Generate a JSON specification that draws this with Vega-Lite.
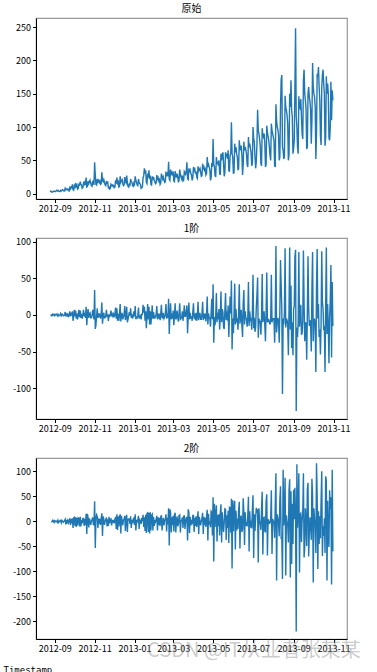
{
"$schema":"https://vega.github.io/schema/vega-lite/v6.json",
"padding":{"top":3,"left":2,"right":0,"bottom":0},
"title":{"text":"CSDN @IT从业者张某某","orient":"bottom","anchor":"end","fontSize":20,"font":"Noto Sans CJK SC","fontWeight":"normal","color":"rgba(140,140,140,0.45)","offset":-34,"dx":10},
"spacing":8,
"datasets":{"d":[
{"t":"2012-08-25","o":3},
{"t":"2012-08-26","o":4,"a":1},
{"t":"2012-08-27","o":3,"a":-1,"b":-2},
{"t":"2012-08-28","o":2,"a":-1,"b":0},
{"t":"2012-08-29","o":3,"a":1,"b":2},
{"t":"2012-08-30","o":3,"a":0,"b":-1},
{"t":"2012-08-31","o":4,"a":1,"b":1},
{"t":"2012-09-01","o":3,"a":-1,"b":-2},
{"t":"2012-09-02","o":3,"a":0,"b":1},
{"t":"2012-09-03","o":4,"a":1,"b":1},
{"t":"2012-09-04","o":5,"a":1,"b":0},
{"t":"2012-09-05","o":4,"a":-1,"b":-2},
{"t":"2012-09-06","o":5,"a":1,"b":2},
{"t":"2012-09-07","o":4,"a":-1,"b":-2},
{"t":"2012-09-08","o":3,"a":-1,"b":0},
{"t":"2012-09-09","o":3,"a":0,"b":1},
{"t":"2012-09-10","o":5,"a":2,"b":2},
{"t":"2012-09-11","o":4,"a":-1,"b":-3},
{"t":"2012-09-12","o":5,"a":1,"b":2},
{"t":"2012-09-13","o":6,"a":1,"b":0},
{"t":"2012-09-14","o":5,"a":-1,"b":-2},
{"t":"2012-09-15","o":4,"a":-1,"b":0},
{"t":"2012-09-16","o":4,"a":0,"b":1},
{"t":"2012-09-17","o":8,"a":4,"b":4},
{"t":"2012-09-18","o":6,"a":-2,"b":-6},
{"t":"2012-09-19","o":7,"a":1,"b":3},
{"t":"2012-09-20","o":6,"a":-1,"b":-2},
{"t":"2012-09-21","o":7,"a":1,"b":2},
{"t":"2012-09-22","o":5,"a":-2,"b":-3},
{"t":"2012-09-23","o":4,"a":-1,"b":1},
{"t":"2012-09-24","o":9,"a":5,"b":6},
{"t":"2012-09-25","o":7,"a":-2,"b":-7},
{"t":"2012-09-26","o":10,"a":3,"b":5},
{"t":"2012-09-27","o":9,"a":-1,"b":-4},
{"t":"2012-09-28","o":14,"a":5,"b":6},
{"t":"2012-09-29","o":6,"a":-8,"b":-13},
{"t":"2012-09-30","o":5,"a":-1,"b":7},
{"t":"2012-10-01","o":12,"a":7,"b":8},
{"t":"2012-10-02","o":10,"a":-2,"b":-9},
{"t":"2012-10-03","o":16,"a":6,"b":8},
{"t":"2012-10-04","o":11,"a":-5,"b":-11},
{"t":"2012-10-05","o":13,"a":2,"b":7},
{"t":"2012-10-06","o":7,"a":-6,"b":-8},
{"t":"2012-10-07","o":8,"a":1,"b":7},
{"t":"2012-10-08","o":15,"a":7,"b":6},
{"t":"2012-10-09","o":12,"a":-3,"b":-10},
{"t":"2012-10-10","o":18,"a":6,"b":9},
{"t":"2012-10-11","o":14,"a":-4,"b":-10},
{"t":"2012-10-12","o":13,"a":-1,"b":3},
{"t":"2012-10-13","o":8,"a":-5,"b":-4},
{"t":"2012-10-14","o":9,"a":1,"b":6},
{"t":"2012-10-15","o":16,"a":7,"b":6},
{"t":"2012-10-16","o":14,"a":-2,"b":-9},
{"t":"2012-10-17","o":17,"a":3,"b":5},
{"t":"2012-10-18","o":13,"a":-4,"b":-7},
{"t":"2012-10-19","o":24,"a":11,"b":15},
{"t":"2012-10-20","o":10,"a":-14,"b":-25},
{"t":"2012-10-21","o":11,"a":1,"b":15},
{"t":"2012-10-22","o":19,"a":8,"b":7},
{"t":"2012-10-23","o":15,"a":-4,"b":-12},
{"t":"2012-10-24","o":17,"a":2,"b":6},
{"t":"2012-10-25","o":20,"a":3,"b":1},
{"t":"2012-10-26","o":16,"a":-4,"b":-7},
{"t":"2012-10-27","o":12,"a":-4,"b":0},
{"t":"2012-10-28","o":11,"a":-1,"b":3},
{"t":"2012-10-29","o":18,"a":7,"b":8},
{"t":"2012-10-30","o":19,"a":1,"b":-6},
{"t":"2012-10-31","o":13,"a":-6,"b":-7},
{"t":"2012-11-01","o":47,"a":34,"b":40},
{"t":"2012-11-02","o":28,"a":-19,"b":-53},
{"t":"2012-11-03","o":14,"a":-14,"b":5},
{"t":"2012-11-04","o":13,"a":-1,"b":13},
{"t":"2012-11-05","o":22,"a":9,"b":10},
{"t":"2012-11-06","o":18,"a":-4,"b":-13},
{"t":"2012-11-07","o":20,"a":2,"b":6},
{"t":"2012-11-08","o":17,"a":-3,"b":-5},
{"t":"2012-11-09","o":19,"a":2,"b":5},
{"t":"2012-11-10","o":14,"a":-5,"b":-7},
{"t":"2012-11-11","o":15,"a":1,"b":6},
{"t":"2012-11-12","o":32,"a":17,"b":16},
{"t":"2012-11-13","o":20,"a":-12,"b":-29},
{"t":"2012-11-14","o":18,"a":-2,"b":10},
{"t":"2012-11-15","o":21,"a":3,"b":5},
{"t":"2012-11-16","o":17,"a":-4,"b":-7},
{"t":"2012-11-17","o":13,"a":-4,"b":0},
{"t":"2012-11-18","o":12,"a":-1,"b":3},
{"t":"2012-11-19","o":19,"a":7,"b":8},
{"t":"2012-11-20","o":16,"a":-3,"b":-10},
{"t":"2012-11-21","o":17,"a":1,"b":4},
{"t":"2012-11-22","o":9,"a":-8,"b":-9},
{"t":"2012-11-23","o":10,"a":1,"b":9},
{"t":"2012-11-24","o":7,"a":-3,"b":-4},
{"t":"2012-11-25","o":8,"a":1,"b":4},
{"t":"2012-11-26","o":14,"a":6,"b":5},
{"t":"2012-11-27","o":12,"a":-2,"b":-8},
{"t":"2012-11-28","o":13,"a":1,"b":3},
{"t":"2012-11-29","o":11,"a":-2,"b":-3},
{"t":"2012-11-30","o":12,"a":1,"b":3},
{"t":"2012-12-01","o":9,"a":-3,"b":-4},
{"t":"2012-12-02","o":10,"a":1,"b":4},
{"t":"2012-12-03","o":20,"a":10,"b":9},
{"t":"2012-12-04","o":15,"a":-5,"b":-15},
{"t":"2012-12-05","o":24,"a":9,"b":14},
{"t":"2012-12-06","o":16,"a":-8,"b":-17},
{"t":"2012-12-07","o":18,"a":2,"b":10},
{"t":"2012-12-08","o":10,"a":-8,"b":-10},
{"t":"2012-12-09","o":11,"a":1,"b":9},
{"t":"2012-12-10","o":26,"a":15,"b":14},
{"t":"2012-12-11","o":17,"a":-9,"b":-24},
{"t":"2012-12-12","o":19,"a":2,"b":11},
{"t":"2012-12-13","o":21,"a":2,"b":0},
{"t":"2012-12-14","o":15,"a":-6,"b":-8},
{"t":"2012-12-15","o":12,"a":-3,"b":3},
{"t":"2012-12-16","o":13,"a":1,"b":4},
{"t":"2012-12-17","o":25,"a":12,"b":11},
{"t":"2012-12-18","o":18,"a":-7,"b":-19},
{"t":"2012-12-19","o":16,"a":-2,"b":5},
{"t":"2012-12-20","o":27,"a":11,"b":13},
{"t":"2012-12-21","o":17,"a":-10,"b":-21},
{"t":"2012-12-22","o":11,"a":-6,"b":4},
{"t":"2012-12-23","o":10,"a":-1,"b":5},
{"t":"2012-12-24","o":14,"a":4,"b":5},
{"t":"2012-12-25","o":13,"a":-1,"b":-5},
{"t":"2012-12-26","o":22,"a":9,"b":10},
{"t":"2012-12-27","o":18,"a":-4,"b":-13},
{"t":"2012-12-28","o":17,"a":-1,"b":3},
{"t":"2012-12-29","o":12,"a":-5,"b":-4},
{"t":"2012-12-30","o":11,"a":-1,"b":4},
{"t":"2012-12-31","o":16,"a":5,"b":6},
{"t":"2013-01-01","o":14,"a":-2,"b":-7},
{"t":"2013-01-02","o":26,"a":12,"b":14},
{"t":"2013-01-03","o":20,"a":-6,"b":-18},
{"t":"2013-01-04","o":17,"a":-3,"b":3},
{"t":"2013-01-05","o":13,"a":-4,"b":-1},
{"t":"2013-01-06","o":12,"a":-1,"b":3},
{"t":"2013-01-07","o":22,"a":10,"b":11},
{"t":"2013-01-08","o":17,"a":-5,"b":-15},
{"t":"2013-01-09","o":15,"a":-2,"b":3},
{"t":"2013-01-10","o":14,"a":-1,"b":1},
{"t":"2013-01-11","o":8,"a":-6,"b":-5},
{"t":"2013-01-12","o":9,"a":1,"b":7},
{"t":"2013-01-13","o":10,"a":1,"b":0},
{"t":"2013-01-14","o":24,"a":14,"b":13},
{"t":"2013-01-15","o":27,"a":3,"b":-11},
{"t":"2013-01-16","o":38,"a":11,"b":8},
{"t":"2013-01-17","o":30,"a":-8,"b":-19},
{"t":"2013-01-18","o":35,"a":5,"b":13},
{"t":"2013-01-19","o":17,"a":-18,"b":-23},
{"t":"2013-01-20","o":15,"a":-2,"b":16},
{"t":"2013-01-21","o":30,"a":15,"b":17},
{"t":"2013-01-22","o":24,"a":-6,"b":-21},
{"t":"2013-01-23","o":35,"a":11,"b":17},
{"t":"2013-01-24","o":22,"a":-13,"b":-24},
{"t":"2013-01-25","o":27,"a":5,"b":18},
{"t":"2013-01-26","o":14,"a":-13,"b":-18},
{"t":"2013-01-27","o":13,"a":-1,"b":12},
{"t":"2013-01-28","o":26,"a":13,"b":14},
{"t":"2013-01-29","o":21,"a":-5,"b":-18},
{"t":"2013-01-30","o":25,"a":4,"b":9},
{"t":"2013-01-31","o":20,"a":-5,"b":-9},
{"t":"2013-02-01","o":18,"a":-2,"b":3},
{"t":"2013-02-02","o":15,"a":-3,"b":-1},
{"t":"2013-02-03","o":16,"a":1,"b":4},
{"t":"2013-02-04","o":28,"a":12,"b":11},
{"t":"2013-02-05","o":22,"a":-6,"b":-18},
{"t":"2013-02-06","o":24,"a":2,"b":8},
{"t":"2013-02-07","o":19,"a":-5,"b":-7},
{"t":"2013-02-08","o":21,"a":2,"b":7},
{"t":"2013-02-09","o":14,"a":-7,"b":-9},
{"t":"2013-02-10","o":16,"a":2,"b":9},
{"t":"2013-02-11","o":30,"a":14,"b":12},
{"t":"2013-02-12","o":26,"a":-4,"b":-18},
{"t":"2013-02-13","o":22,"a":-4,"b":0},
{"t":"2013-02-14","o":25,"a":3,"b":7},
{"t":"2013-02-15","o":20,"a":-5,"b":-8},
{"t":"2013-02-16","o":17,"a":-3,"b":2},
{"t":"2013-02-17","o":18,"a":1,"b":4},
{"t":"2013-02-18","o":33,"a":15,"b":14},
{"t":"2013-02-19","o":28,"a":-5,"b":-20},
{"t":"2013-02-20","o":30,"a":2,"b":7},
{"t":"2013-02-21","o":26,"a":-4,"b":-6},
{"t":"2013-02-22","o":48,"a":22,"b":26},
{"t":"2013-02-23","o":22,"a":-26,"b":-48},
{"t":"2013-02-24","o":20,"a":-2,"b":24},
{"t":"2013-02-25","o":36,"a":16,"b":18},
{"t":"2013-02-26","o":30,"a":-6,"b":-22},
{"t":"2013-02-27","o":32,"a":2,"b":8},
{"t":"2013-02-28","o":27,"a":-5,"b":-7},
{"t":"2013-03-01","o":33,"a":6,"b":11},
{"t":"2013-03-02","o":19,"a":-14,"b":-20},
{"t":"2013-03-03","o":18,"a":-1,"b":13},
{"t":"2013-03-04","o":34,"a":16,"b":17},
{"t":"2013-03-05","o":28,"a":-6,"b":-22},
{"t":"2013-03-06","o":24,"a":-4,"b":2},
{"t":"2013-03-07","o":30,"a":6,"b":10},
{"t":"2013-03-08","o":26,"a":-4,"b":-10},
{"t":"2013-03-09","o":17,"a":-9,"b":-5},
{"t":"2013-03-10","o":20,"a":3,"b":12},
{"t":"2013-03-11","o":36,"a":16,"b":13},
{"t":"2013-03-12","o":30,"a":-6,"b":-22},
{"t":"2013-03-13","o":25,"a":-5,"b":1},
{"t":"2013-03-14","o":22,"a":-3,"b":2},
{"t":"2013-03-15","o":27,"a":5,"b":8},
{"t":"2013-03-16","o":19,"a":-8,"b":-13},
{"t":"2013-03-17","o":20,"a":1,"b":9},
{"t":"2013-03-18","o":33,"a":13,"b":12},
{"t":"2013-03-19","o":31,"a":-2,"b":-15},
{"t":"2013-03-20","o":29,"a":-2,"b":0},
{"t":"2013-03-21","o":34,"a":5,"b":7},
{"t":"2013-03-22","o":47,"a":13,"b":8},
{"t":"2013-03-23","o":22,"a":-25,"b":-38},
{"t":"2013-03-24","o":21,"a":-1,"b":24},
{"t":"2013-03-25","o":38,"a":17,"b":18},
{"t":"2013-03-26","o":32,"a":-6,"b":-23},
{"t":"2013-03-27","o":35,"a":3,"b":9},
{"t":"2013-03-28","o":30,"a":-5,"b":-8},
{"t":"2013-03-29","o":28,"a":-2,"b":3},
{"t":"2013-03-30","o":20,"a":-8,"b":-6},
{"t":"2013-03-31","o":24,"a":4,"b":12},
{"t":"2013-04-01","o":40,"a":16,"b":12},
{"t":"2013-04-02","o":35,"a":-5,"b":-21},
{"t":"2013-04-03","o":37,"a":2,"b":7},
{"t":"2013-04-04","o":30,"a":-7,"b":-9},
{"t":"2013-04-05","o":33,"a":3,"b":10},
{"t":"2013-04-06","o":25,"a":-8,"b":-11},
{"t":"2013-04-07","o":23,"a":-2,"b":6},
{"t":"2013-04-08","o":41,"a":18,"b":20},
{"t":"2013-04-09","o":34,"a":-7,"b":-25},
{"t":"2013-04-10","o":36,"a":2,"b":9},
{"t":"2013-04-11","o":38,"a":2,"b":0},
{"t":"2013-04-12","o":32,"a":-6,"b":-8},
{"t":"2013-04-13","o":26,"a":-6,"b":0},
{"t":"2013-04-14","o":27,"a":1,"b":7},
{"t":"2013-04-15","o":45,"a":18,"b":17},
{"t":"2013-04-16","o":38,"a":-7,"b":-25},
{"t":"2013-04-17","o":40,"a":2,"b":9},
{"t":"2013-04-18","o":35,"a":-5,"b":-7},
{"t":"2013-04-19","o":37,"a":2,"b":7},
{"t":"2013-04-20","o":28,"a":-9,"b":-11},
{"t":"2013-04-21","o":30,"a":2,"b":11},
{"t":"2013-04-22","o":55,"a":25,"b":23},
{"t":"2013-04-23","o":42,"a":-13,"b":-38},
{"t":"2013-04-24","o":44,"a":2,"b":15},
{"t":"2013-04-25","o":40,"a":-4,"b":-6},
{"t":"2013-04-26","o":36,"a":-4,"b":0},
{"t":"2013-04-27","o":20,"a":-16,"b":-12},
{"t":"2013-04-28","o":24,"a":4,"b":20},
{"t":"2013-04-29","o":46,"a":22,"b":18},
{"t":"2013-04-30","o":40,"a":-6,"b":-28},
{"t":"2013-05-01","o":82,"a":42,"b":48},
{"t":"2013-05-02","o":44,"a":-38,"b":-80},
{"t":"2013-05-03","o":41,"a":-3,"b":35},
{"t":"2013-05-04","o":27,"a":-14,"b":-11},
{"t":"2013-05-05","o":25,"a":-2,"b":12},
{"t":"2013-05-06","o":55,"a":30,"b":32},
{"t":"2013-05-07","o":45,"a":-10,"b":-40},
{"t":"2013-05-08","o":48,"a":3,"b":13},
{"t":"2013-05-09","o":42,"a":-6,"b":-9},
{"t":"2013-05-10","o":50,"a":8,"b":14},
{"t":"2013-05-11","o":30,"a":-20,"b":-28},
{"t":"2013-05-12","o":28,"a":-2,"b":18},
{"t":"2013-05-13","o":60,"a":32,"b":34},
{"t":"2013-05-14","o":50,"a":-10,"b":-42},
{"t":"2013-05-15","o":58,"a":8,"b":18},
{"t":"2013-05-16","o":62,"a":4,"b":-4},
{"t":"2013-05-17","o":45,"a":-17,"b":-21},
{"t":"2013-05-18","o":26,"a":-19,"b":-2},
{"t":"2013-05-19","o":32,"a":6,"b":25},
{"t":"2013-05-20","o":62,"a":30,"b":24},
{"t":"2013-05-21","o":55,"a":-7,"b":-37},
{"t":"2013-05-22","o":60,"a":5,"b":12},
{"t":"2013-05-23","o":52,"a":-8,"b":-13},
{"t":"2013-05-24","o":65,"a":13,"b":21},
{"t":"2013-05-25","o":35,"a":-30,"b":-43},
{"t":"2013-05-26","o":33,"a":-2,"b":28},
{"t":"2013-05-27","o":58,"a":25,"b":27},
{"t":"2013-05-28","o":60,"a":2,"b":-23},
{"t":"2013-05-29","o":107,"a":47,"b":45},
{"t":"2013-05-30","o":60,"a":-47,"b":-94},
{"t":"2013-05-31","o":55,"a":-5,"b":42},
{"t":"2013-06-01","o":30,"a":-25,"b":-20},
{"t":"2013-06-02","o":32,"a":2,"b":27},
{"t":"2013-06-03","o":75,"a":43,"b":41},
{"t":"2013-06-04","o":62,"a":-13,"b":-56},
{"t":"2013-06-05","o":70,"a":8,"b":21},
{"t":"2013-06-06","o":60,"a":-10,"b":-18},
{"t":"2013-06-07","o":55,"a":-5,"b":5},
{"t":"2013-06-08","o":35,"a":-20,"b":-15},
{"t":"2013-06-09","o":38,"a":3,"b":23},
{"t":"2013-06-10","o":80,"a":42,"b":39},
{"t":"2013-06-11","o":68,"a":-12,"b":-54},
{"t":"2013-06-12","o":65,"a":-3,"b":9},
{"t":"2013-06-13","o":72,"a":7,"b":10},
{"t":"2013-06-14","o":58,"a":-14,"b":-21},
{"t":"2013-06-15","o":28,"a":-30,"b":-16},
{"t":"2013-06-16","o":44,"a":16,"b":46},
{"t":"2013-06-17","o":78,"a":34,"b":18},
{"t":"2013-06-18","o":65,"a":-13,"b":-47},
{"t":"2013-06-19","o":70,"a":5,"b":18},
{"t":"2013-06-20","o":66,"a":-4,"b":-9},
{"t":"2013-06-21","o":60,"a":-6,"b":-2},
{"t":"2013-06-22","o":44,"a":-16,"b":-10},
{"t":"2013-06-23","o":40,"a":-4,"b":12},
{"t":"2013-06-24","o":85,"a":45,"b":49},
{"t":"2013-06-25","o":70,"a":-15,"b":-60},
{"t":"2013-06-26","o":75,"a":5,"b":20},
{"t":"2013-06-27","o":68,"a":-7,"b":-12},
{"t":"2013-06-28","o":62,"a":-6,"b":1},
{"t":"2013-06-29","o":42,"a":-20,"b":-14},
{"t":"2013-06-30","o":45,"a":3,"b":23},
{"t":"2013-07-01","o":100,"a":55,"b":52},
{"t":"2013-07-02","o":82,"a":-18,"b":-73},
{"t":"2013-07-03","o":78,"a":-4,"b":14},
{"t":"2013-07-04","o":55,"a":-23,"b":-19},
{"t":"2013-07-05","o":38,"a":-17,"b":6},
{"t":"2013-07-06","o":48,"a":10,"b":27},
{"t":"2013-07-07","o":75,"a":27,"b":17},
{"t":"2013-07-08","o":126,"a":51,"b":24},
{"t":"2013-07-09","o":95,"a":-31,"b":-82},
{"t":"2013-07-10","o":90,"a":-5,"b":26},
{"t":"2013-07-11","o":82,"a":-8,"b":-3},
{"t":"2013-07-12","o":72,"a":-10,"b":-2},
{"t":"2013-07-13","o":45,"a":-27,"b":-17},
{"t":"2013-07-14","o":42,"a":-3,"b":24},
{"t":"2013-07-15","o":98,"a":56,"b":59},
{"t":"2013-07-16","o":88,"a":-10,"b":-66},
{"t":"2013-07-17","o":85,"a":-3,"b":7},
{"t":"2013-07-18","o":90,"a":5,"b":8},
{"t":"2013-07-19","o":76,"a":-14,"b":-19},
{"t":"2013-07-20","o":40,"a":-36,"b":-22},
{"t":"2013-07-21","o":44,"a":4,"b":40},
{"t":"2013-07-22","o":102,"a":58,"b":54},
{"t":"2013-07-23","o":92,"a":-10,"b":-68},
{"t":"2013-07-24","o":86,"a":-6,"b":4},
{"t":"2013-07-25","o":80,"a":-6,"b":0},
{"t":"2013-07-26","o":70,"a":-10,"b":-4},
{"t":"2013-07-27","o":57,"a":-13,"b":-3},
{"t":"2013-07-28","o":50,"a":-7,"b":6},
{"t":"2013-07-29","o":105,"a":55,"b":62},
{"t":"2013-07-30","o":95,"a":-10,"b":-65},
{"t":"2013-07-31","o":90,"a":-5,"b":5},
{"t":"2013-08-01","o":85,"a":-5,"b":0},
{"t":"2013-08-02","o":80,"a":-5,"b":0},
{"t":"2013-08-03","o":42,"a":-38,"b":-33},
{"t":"2013-08-04","o":40,"a":-2,"b":36},
{"t":"2013-08-05","o":134,"a":94,"b":96},
{"t":"2013-08-06","o":110,"a":-24,"b":-118},
{"t":"2013-08-07","o":100,"a":-10,"b":14},
{"t":"2013-08-08","o":96,"a":-4,"b":6},
{"t":"2013-08-09","o":88,"a":-8,"b":-4},
{"t":"2013-08-10","o":50,"a":-38,"b":-30},
{"t":"2013-08-11","o":55,"a":5,"b":43},
{"t":"2013-08-12","o":130,"a":75,"b":70},
{"t":"2013-08-13","o":171,"a":41,"b":-34},
{"t":"2013-08-14","o":178,"a":7,"b":-34},
{"t":"2013-08-15","o":70,"a":-108,"b":-115},
{"t":"2013-08-16","o":65,"a":-5,"b":103},
{"t":"2013-08-17","o":52,"a":-13,"b":-8},
{"t":"2013-08-18","o":56,"a":4,"b":17},
{"t":"2013-08-19","o":147,"a":91,"b":87},
{"t":"2013-08-20","o":130,"a":-17,"b":-108},
{"t":"2013-08-21","o":125,"a":-5,"b":12},
{"t":"2013-08-22","o":118,"a":-7,"b":-2},
{"t":"2013-08-23","o":105,"a":-13,"b":-6},
{"t":"2013-08-24","o":50,"a":-55,"b":-42},
{"t":"2013-08-25","o":58,"a":8,"b":63},
{"t":"2013-08-26","o":150,"a":92,"b":84},
{"t":"2013-08-27","o":130,"a":-20,"b":-112},
{"t":"2013-08-28","o":170,"a":40,"b":60},
{"t":"2013-08-29","o":125,"a":-45,"b":-85},
{"t":"2013-08-30","o":115,"a":-10,"b":35},
{"t":"2013-08-31","o":60,"a":-55,"b":-45},
{"t":"2013-09-01","o":68,"a":8,"b":63},
{"t":"2013-09-02","o":80,"a":12,"b":4},
{"t":"2013-09-03","o":159,"a":79,"b":67},
{"t":"2013-09-04","o":248,"a":89,"b":10},
{"t":"2013-09-05","o":117,"a":-131,"b":-220},
{"t":"2013-09-06","o":100,"a":-17,"b":114},
{"t":"2013-09-07","o":70,"a":-30,"b":-13},
{"t":"2013-09-08","o":60,"a":-10,"b":20},
{"t":"2013-09-09","o":146,"a":86,"b":96},
{"t":"2013-09-10","o":130,"a":-16,"b":-102},
{"t":"2013-09-11","o":128,"a":-2,"b":14},
{"t":"2013-09-12","o":142,"a":14,"b":16},
{"t":"2013-09-13","o":115,"a":-27,"b":-41},
{"t":"2013-09-14","o":90,"a":-25,"b":2},
{"t":"2013-09-15","o":82,"a":-8,"b":17},
{"t":"2013-09-16","o":170,"a":88,"b":96},
{"t":"2013-09-17","o":186,"a":16,"b":-72},
{"t":"2013-09-18","o":150,"a":-36,"b":-52},
{"t":"2013-09-19","o":140,"a":-10,"b":26},
{"t":"2013-09-20","o":128,"a":-12,"b":-2},
{"t":"2013-09-21","o":67,"a":-61,"b":-49},
{"t":"2013-09-22","o":70,"a":3,"b":64},
{"t":"2013-09-23","o":150,"a":80,"b":77},
{"t":"2013-09-24","o":160,"a":10,"b":-70},
{"t":"2013-09-25","o":145,"a":-15,"b":-25},
{"t":"2013-09-26","o":138,"a":-7,"b":8},
{"t":"2013-09-27","o":125,"a":-13,"b":-6},
{"t":"2013-09-28","o":75,"a":-50,"b":-37},
{"t":"2013-09-29","o":110,"a":35,"b":85},
{"t":"2013-09-30","o":196,"a":86,"b":51},
{"t":"2013-10-01","o":160,"a":-36,"b":-122},
{"t":"2013-10-02","o":150,"a":-10,"b":26},
{"t":"2013-10-03","o":145,"a":-5,"b":5},
{"t":"2013-10-04","o":130,"a":-15,"b":-10},
{"t":"2013-10-05","o":52,"a":-78,"b":-63},
{"t":"2013-10-06","o":90,"a":38,"b":116},
{"t":"2013-10-07","o":180,"a":90,"b":52},
{"t":"2013-10-08","o":175,"a":-5,"b":-95},
{"t":"2013-10-09","o":190,"a":15,"b":20},
{"t":"2013-10-10","o":160,"a":-30,"b":-45},
{"t":"2013-10-11","o":140,"a":-20,"b":10},
{"t":"2013-10-12","o":86,"a":-54,"b":-34},
{"t":"2013-10-13","o":73,"a":-13,"b":41},
{"t":"2013-10-14","o":160,"a":87,"b":100},
{"t":"2013-10-15","o":178,"a":18,"b":-69},
{"t":"2013-10-16","o":186,"a":8,"b":-10},
{"t":"2013-10-17","o":165,"a":-21,"b":-29},
{"t":"2013-10-18","o":150,"a":-15,"b":6},
{"t":"2013-10-19","o":72,"a":-78,"b":-63},
{"t":"2013-10-20","o":84,"a":12,"b":90},
{"t":"2013-10-21","o":176,"a":92,"b":80},
{"t":"2013-10-22","o":150,"a":-26,"b":-118},
{"t":"2013-10-23","o":165,"a":15,"b":41},
{"t":"2013-10-24","o":150,"a":-15,"b":-30},
{"t":"2013-10-25","o":84,"a":-66,"b":-51},
{"t":"2013-10-26","o":80,"a":-4,"b":62},
{"t":"2013-10-27","o":100,"a":20,"b":24},
{"t":"2013-10-28","o":168,"a":68,"b":48},
{"t":"2013-10-29","o":110,"a":-58,"b":-126},
{"t":"2013-10-30","o":155,"a":45,"b":103},
{"t":"2013-10-31","o":140,"a":-15,"b":-60}
]},
"vconcat":[
{"data":{"name":"d"},"width":311,"height":181,"title":{"text":"原始"},
"mark":{"type":"line","color":"#1f77b4","strokeWidth":1.4},
"encoding":{
"x":{"field":"t","type":"temporal","scale":{"type":"utc","domain":[{"year":2012,"month":8,"date":3,"hours":10,"utc":true},{"year":2013,"month":11,"date":21,"hours":14,"utc":true}]},"axis":{"title":null,"format":"%Y-%m","values":[{"year":2012,"month":9,"date":1,"utc":true},{"year":2012,"month":11,"date":1,"utc":true},{"year":2013,"month":1,"date":1,"utc":true},{"year":2013,"month":3,"date":1,"utc":true},{"year":2013,"month":5,"date":1,"utc":true},{"year":2013,"month":7,"date":1,"utc":true},{"year":2013,"month":9,"date":1,"utc":true},{"year":2013,"month":11,"date":1,"utc":true}]}},
"y":{"field":"o","type":"quantitative","scale":{"domain":[-8,263.5],"nice":false,"zero":false},"axis":{"title":null,"values":[0,50,100,150,200,250]}}}},
{"data":{"name":"d"},"width":311,"height":181,"title":{"text":"1阶"},
"mark":{"type":"line","color":"#1f77b4","strokeWidth":1.4},
"encoding":{
"x":{"field":"t","type":"temporal","scale":{"type":"utc","domain":[{"year":2012,"month":8,"date":3,"hours":10,"utc":true},{"year":2013,"month":11,"date":21,"hours":14,"utc":true}]},"axis":{"title":null,"format":"%Y-%m","values":[{"year":2012,"month":9,"date":1,"utc":true},{"year":2012,"month":11,"date":1,"utc":true},{"year":2013,"month":1,"date":1,"utc":true},{"year":2013,"month":3,"date":1,"utc":true},{"year":2013,"month":5,"date":1,"utc":true},{"year":2013,"month":7,"date":1,"utc":true},{"year":2013,"month":9,"date":1,"utc":true},{"year":2013,"month":11,"date":1,"utc":true}]}},
"y":{"field":"a","type":"quantitative","scale":{"domain":[-142,105],"nice":false,"zero":false},"axis":{"title":null,"values":[-100,-50,0,50,100]}}}},
{"data":{"name":"d"},"width":311,"height":181,"title":{"text":"2阶"},
"mark":{"type":"line","color":"#1f77b4","strokeWidth":1.4},
"encoding":{
"x":{"field":"t","type":"temporal","scale":{"type":"utc","domain":[{"year":2012,"month":8,"date":3,"hours":10,"utc":true},{"year":2013,"month":11,"date":21,"hours":14,"utc":true}]},"axis":{"title":"Timestamp","titleFont":"DejaVu Sans Mono","titleFontSize":9,"titleFontWeight":"normal","titleColor":"#000","titleAnchor":"start","titleAlign":"left","titleBaseline":"top","titleX":-33,"titleY":26,"format":"%Y-%m","values":[{"year":2012,"month":9,"date":1,"utc":true},{"year":2012,"month":11,"date":1,"utc":true},{"year":2013,"month":1,"date":1,"utc":true},{"year":2013,"month":3,"date":1,"utc":true},{"year":2013,"month":5,"date":1,"utc":true},{"year":2013,"month":7,"date":1,"utc":true},{"year":2013,"month":9,"date":1,"utc":true},{"year":2013,"month":11,"date":1,"utc":true}]}},
"y":{"field":"b","type":"quantitative","scale":{"domain":[-235,126.5],"nice":false,"zero":false},"axis":{"title":null,"values":[-200,-150,-100,-50,0,50,100]}}}}
],
"config":{
"font":"Noto Sans CJK SC",
"locale":{"number":{"decimal":".","thousands":",","grouping":[3],"currency":["",""],"minus":"-"}},
"view":{"stroke":"#999","strokeWidth":1.2},
"axis":{"grid":false,"domainColor":"#000","domainWidth":1,"tickColor":"#000","tickSize":3.5,"tickWidth":1,"labelFont":"Noto Sans CJK SC","labelFontSize":9,"labelColor":"#000","labelPadding":2},
"title":{"font":"Noto Sans CJK SC","fontSize":10,"fontWeight":"normal","color":"#000","offset":4}
}
}
